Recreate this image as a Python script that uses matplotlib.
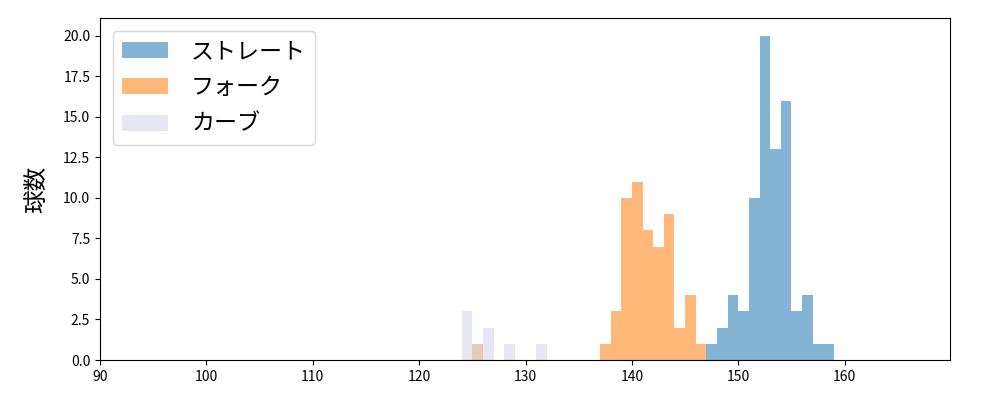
import numpy as np
import matplotlib.pyplot as plt

plt.rcParams['font.family'] = ['Noto Sans CJK JP', 'DejaVu Sans']

# histogram counts per 1 km/h bin (bin start values)
straight_bins = [147, 148, 149, 150, 151, 152, 153, 154, 155, 156, 157, 158]
straight_counts = [1, 2, 4, 3, 10, 20, 13, 16, 3, 4, 1, 1]

fork_bins = [125, 126, 127, 128, 129, 130, 131, 132, 133, 134, 135,
             136, 137, 138, 139, 140, 141, 142, 143, 144, 145, 146]
fork_counts = [1, 0, 0, 0, 0, 0, 0, 0, 0, 0, 0,
               0, 1, 3, 10, 11, 8, 7, 9, 2, 4, 1]

curve_bins = [124, 125, 126, 127, 128, 129, 130, 131]
curve_counts = [3, 1, 2, 0, 1, 0, 0, 1]

labels = ['ストレート', 'フォーク', 'カーブ']
colors = ['#1f77b4', '#ff7f0e', '#d4d4e6']

fig, ax = plt.subplots(figsize=(10, 4), dpi=100)
fig.subplots_adjust(left=0.1, right=0.95, top=0.955, bottom=0.1)

for b, c, lab, col in zip([straight_bins, fork_bins, curve_bins],
                          [straight_counts, fork_counts, curve_counts],
                          labels, colors):
    b = np.array(b, dtype=float)
    edges = np.append(b, b[-1] + 1)
    ax.hist(b + 0.5, bins=edges, weights=c, color=col, alpha=0.55, label=lab)

ax.set_xlim(90, 169.9)
ax.set_ylim(0, 21.1)
ax.set_ylabel('球数', fontsize=17, labelpad=11)
ax.legend(loc='upper left', fontsize=16.6, borderaxespad=0.55,
          labelspacing=0.58, handletextpad=1.0)

plt.savefig('out.png')
